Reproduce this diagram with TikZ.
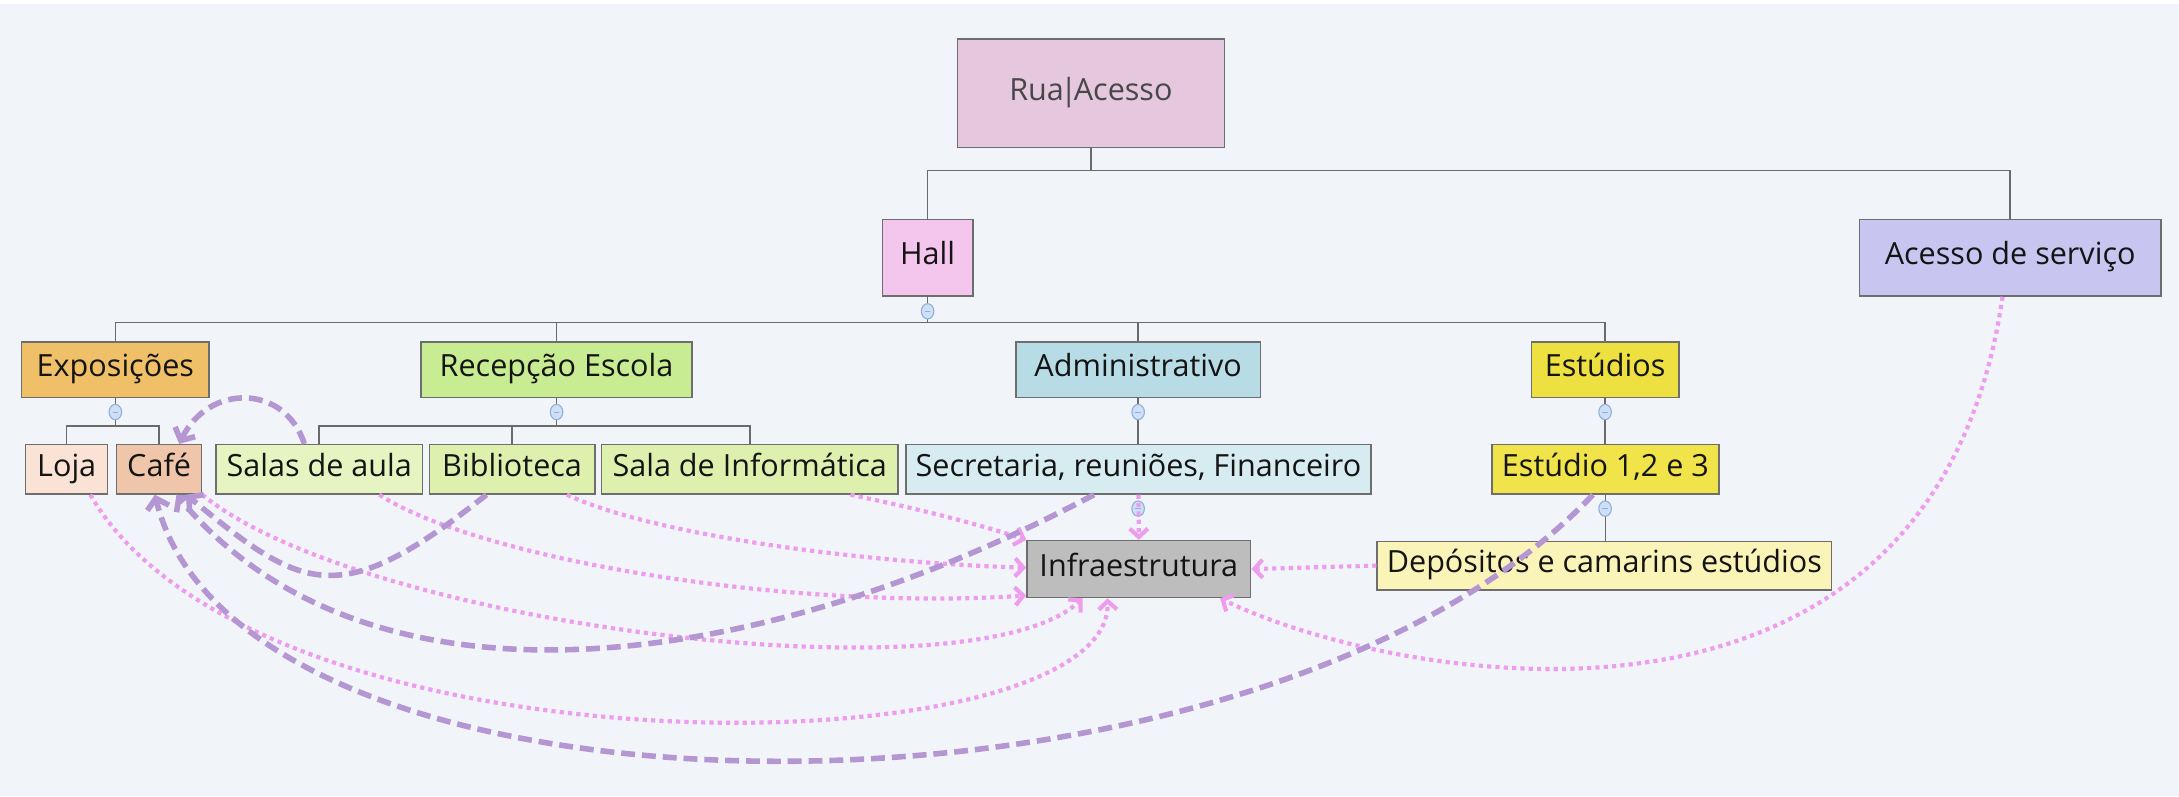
\documentclass[tikz,border=0pt]{standalone}
\usepackage{fontspec}
\setmainfont{Open Sans}
\usetikzlibrary{arrows.meta,shapes.geometric}
\definecolor{bg}{HTML}{F1F4F8}
\definecolor{boxline}{HTML}{6E6E6E}
\definecolor{treeline}{HTML}{6A6A6A}
\definecolor{txt}{HTML}{141414}
\definecolor{cRua}{HTML}{E6C8DE}
\definecolor{cHall}{HTML}{F4C6EE}
\definecolor{cAcesso}{HTML}{C8C6F0}
\definecolor{cExpo}{HTML}{F0C068}
\definecolor{cRecep}{HTML}{C8EC92}
\definecolor{cAdmin}{HTML}{B8DCE6}
\definecolor{cEstud}{HTML}{EEE040}
\definecolor{cLoja}{HTML}{FAE2D4}
\definecolor{cCafe}{HTML}{F0C6AA}
\definecolor{cSalas}{HTML}{E6F4C2}
\definecolor{cBib}{HTML}{DDF0AE}
\definecolor{cSecr}{HTML}{D6ECF0}
\definecolor{cEst}{HTML}{F0E44A}
\definecolor{cDep}{HTML}{FAF4B8}
\definecolor{cInfra}{HTML}{BDBDBD}
\definecolor{pinkdot}{HTML}{EE9CEE}
\definecolor{purpdash}{HTML}{B496D2}
\definecolor{colfill}{HTML}{CFE0F6}
\definecolor{colline}{HTML}{8FB0DC}
\begin{document}
\begin{tikzpicture}[x=1pt,y=-1pt,
  box/.style={draw=boxline, line width=1.1pt, inner sep=0pt, text=txt,
    font=\fontsize{22}{24}\selectfont, text height=15pt, text depth=5pt},
  tree/.style={draw=treeline, line width=1.1pt},
  rel/.style={draw=pinkdot, line width=3pt, dash pattern=on 3pt off 3pt,
    -{Straight Barb[length=6pt,width=13pt]}},
  dep/.style={draw=purpdash, line width=4pt, dash pattern=on 10pt off 5pt,
    -{Straight Barb[length=7pt,width=16pt]}},
  collapse/.style={ellipse, draw=colline, fill=colfill, line width=0.8pt,
    minimum width=9pt, minimum height=11pt, inner sep=0pt}
]
\fill[bg] (0,0) rectangle (1568,573);
\fill[white] (0,0) rectangle (1568,3);
\useasboundingbox (0,0) rectangle (1568,573);

% nodes
\node[box, fill=cRua, minimum width=192pt, minimum height=78pt, text=black!72] (rua) at (785,67) {Rua\kern-2.5pt|\kern-2.5pt Acesso};
\node[box, fill=cHall, minimum width=65pt, minimum height=55pt] (hall) at (667.5,185.5) {Hall};
\node[box, fill=cAcesso, minimum width=217pt, minimum height=55pt] (acesso) at (1446.5,185.5) {Acesso de serviço};
\node[box, fill=cExpo, minimum width=135pt, minimum height=40pt] (expo) at (83,266) {Exposições};
\node[box, fill=cRecep, minimum width=195pt, minimum height=40pt] (recep) at (400.5,266) {Recepção Escola};
\node[box, fill=cAdmin, minimum width=176pt, minimum height=40pt] (admin) at (819,266) {Administrativo};
\node[box, fill=cEstud, minimum width=106pt, minimum height=40pt] (estud) at (1155,266) {Estúdios};
\node[box, fill=cLoja, minimum width=59pt, minimum height=35.5pt] (loja) at (48,337.7) {Loja};
\node[box, fill=cCafe, minimum width=61pt, minimum height=35.5pt] (cafe) at (114.5,337.7) {Café};
\node[box, fill=cSalas, minimum width=148.6pt, minimum height=35.5pt] (salas) at (229.7,337.7) {Salas de aula};
\node[box, fill=cBib, minimum width=119pt, minimum height=35.5pt] (biblio) at (368.5,337.7) {Biblioteca};
\node[box, fill=cBib, minimum width=213pt, minimum height=35.5pt] (salainf) at (539.5,337.7) {Sala de Informática};
\node[box, fill=cSecr, minimum width=334.5pt, minimum height=35.5pt] (secr) at (819.25,337.7) {Secretaria, reuniões, Financeiro};
\node[box, fill=cEst, minimum width=163.5pt, minimum height=35.5pt] (est) at (1155.25,337.7) {Estúdio 1,2 e 3};
\node[box, fill=cInfra, minimum width=161pt, minimum height=41pt] (infra) at (819.5,409.5) {Infraestrutura};
\node[box, fill=cDep, minimum width=327pt, minimum height=35pt] (dep) at (1154.5,407) {Depósitos e camarins estúdios};

% tree connectors
\draw[tree] (rua.south) -- ++(0,16) -| (hall.north);
\draw[tree] (rua.south) -- ++(0,16) -| (acesso.north);
\foreach \c in {expo,recep,admin,estud}
  \draw[tree] (hall.south) -- ++(0,18.5) -| (\c.north);
\foreach \c in {loja,cafe}
  \draw[tree] (expo.south) -- ++(0,20) -| (\c.north);
\foreach \c in {salas,biblio,salainf}
  \draw[tree] (recep.south) -- ++(0,20) -| (\c.north);
\draw[tree] (admin.south) -- (admin.south |- secr.north);
\draw[tree] (estud.south) -- (estud.south |- est.north);
\draw[tree] (est.south) -- (est.south |- dep.north);

% collapse markers
\foreach \n/\p in {k1/{(667.5,224)},k2/{(83,296.5)},k3/{(400.5,296.5)},k4/{(819,296.5)},k5/{(1155,296.5)},k6/{(1155,366)},k7/{(819,366)}}{
  \node[collapse] (\n) at \p {};
  \draw[colline, line width=0.7pt] ([xshift=-2pt]\n.center) -- ([xshift=2pt]\n.center);
}

% dotted relations to Infraestrutura
\draw[rel] (secr.south) -- (infra.north);
\draw[rel] (dep.west) -- (infra.east);
\draw[rel] ([xshift=72.5pt]salainf.south) .. controls (660,366) and (700,376) .. (infra.north west);
\draw[rel] ([xshift=39.5pt]biblio.south) .. controls (470,385) and (620,405) .. ([yshift=1pt]infra.west);
\draw[rel] ([xshift=43.3pt]salas.south) .. controls (340,400) and (560,440) .. ([yshift=2pt]infra.south west);
\draw[rel] (cafe.south east) .. controls (260,450) and (700,505) .. ([xshift=-40.5pt]infra.south);
\draw[rel] ([xshift=17pt]loja.south) .. controls (185,565) and (800,555) .. ([xshift=-22.5pt]infra.south);
\draw[rel] ([xshift=-5.5pt]acesso.south) .. controls (1390,565) and (1000,490) .. ([xshift=58.5pt]infra.south);

% dashed relations to Café
\draw[dep] ([xshift=-10.7pt]salas.north) .. controls (205,276) and (150,276) .. ([xshift=14.5pt]cafe.north);
\draw[dep] ([xshift=-18.5pt]biblio.south) .. controls (243.5,440.6) and (217.7,425) .. ([xshift=19.5pt]cafe.south);
\draw[dep] ([xshift=-32pt]secr.south) .. controls (530,492) and (260,516) .. ([xshift=12.5pt]cafe.south);
\draw[dep] ([xshift=-9pt]est.south) .. controls (901,614) and (173,608) .. ([xshift=-3pt]cafe.south);
\end{tikzpicture}
\end{document}
